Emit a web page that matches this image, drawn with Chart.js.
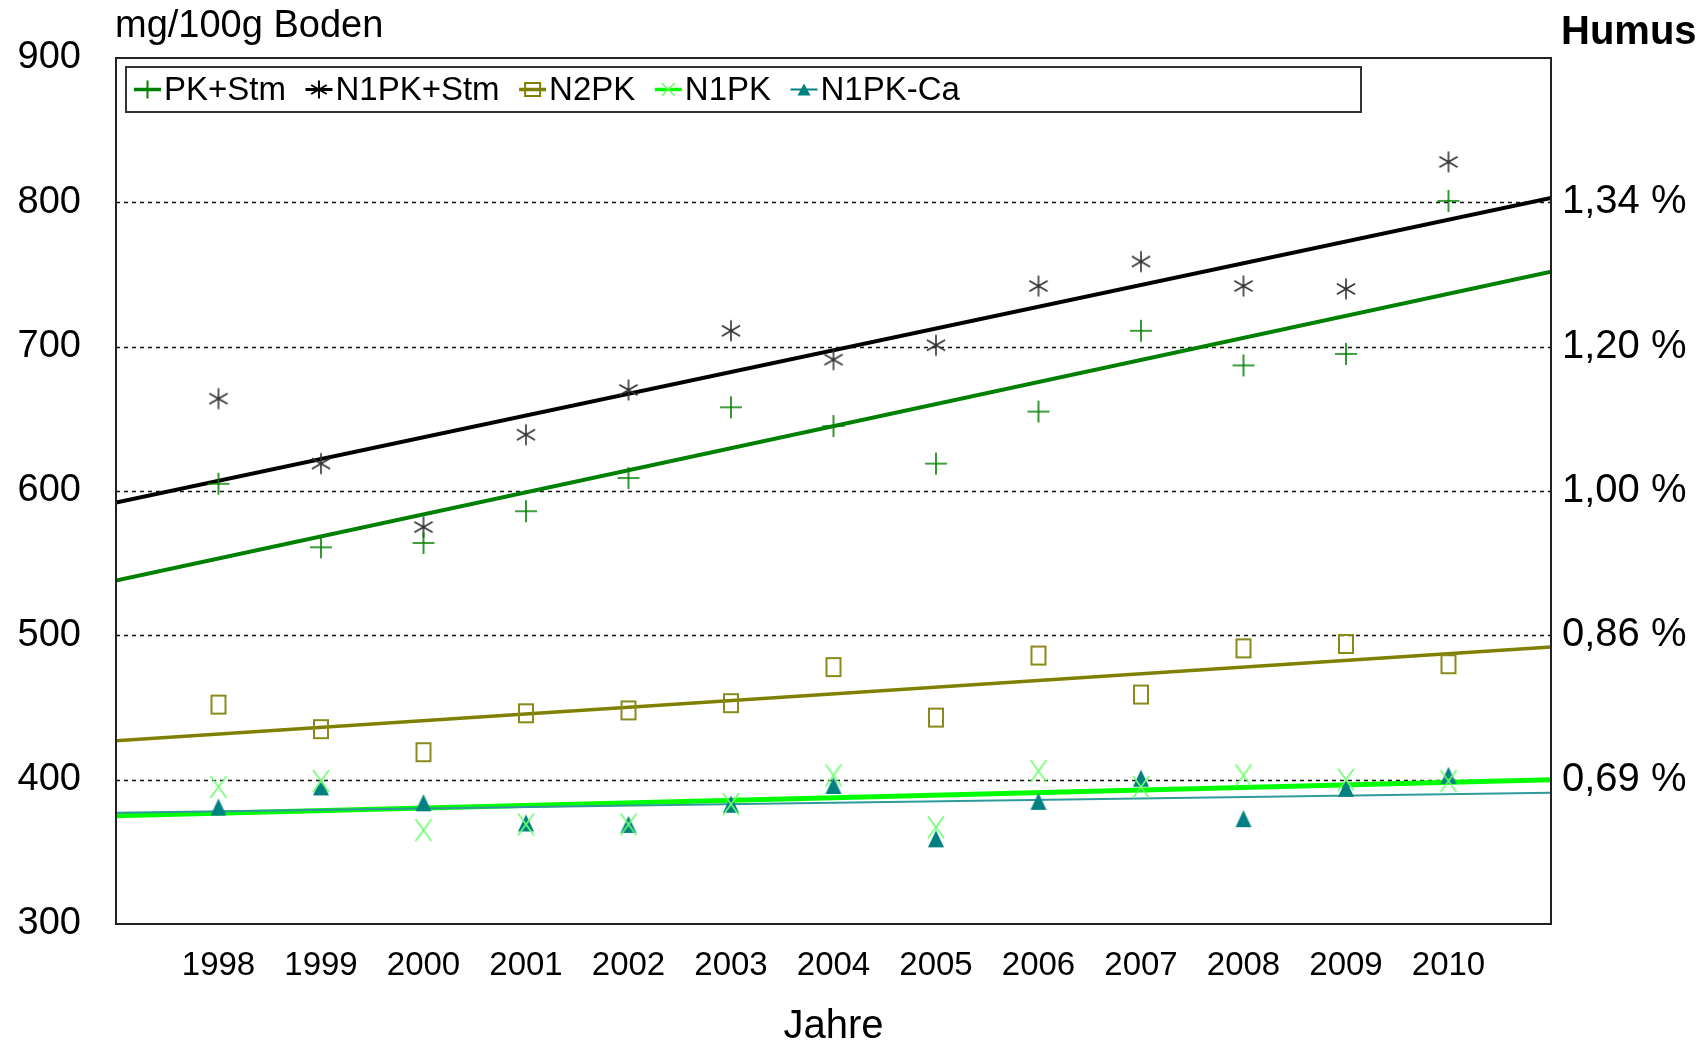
<!DOCTYPE html>
<html lang="de">
<head>
<meta charset="UTF-8">
<title>Humus</title>
<script src="https://cdn.jsdelivr.net/npm/chart.js"></script>
<style>
  html, body { margin: 0; padding: 0; background: #fff; }
</style>
</head>
<body>
<canvas id="humusChart" width="1708" height="1043"></canvas>
<script>
const years = [1998, 1999, 2000, 2001, 2002, 2003, 2004, 2005, 2006, 2007, 2008, 2009, 2010];
const pkStm   = [605, 561, 564, 586, 609, 658, 645, 619, 655, 711, 687, 695, 801];
const n1pkStm = [664, 619, 575, 639, 670, 711, 691, 701, 742, 759, 742, 740, 828];
const n2pk    = [452, 435, 419, 446, 448, 453, 478, 443, 486, 459, 491, 494, 480];
const n1pk    = [395, 399, 365, 369, 369, 383, 403, 367, 406, 395, 403, 400, 399];
const n1pkCa  = [381, 395, 384, 370, 369, 383, 396, 359, 385, 401, 373, 394, 403];

// trend lines, ends at 1997 and 2011
const trendYears   = [1997, 2011];
const pkStmTrend   = [538, 752];
const n1pkStmTrend = [592, 803];
const n2pkTrend    = [427, 492];
const n1pkTrend    = [375, 400];
const n1pkCaTrend  = [377, 391];

const yTicks = [300, 400, 500, 600, 700, 800, 900];
const humusTicks  = [400, 500, 600, 700, 800];
const humusLabels = ['0,69 %', '0,86 %', '1,00 %', '1,20 %', '1,34 %'];

const FONT = '"Liberation Sans", Arial, sans-serif';

function makeMarker(w, h, draw) {
    const c = document.createElement('canvas');
    c.width = w;
    c.height = h;
    draw(c.getContext('2d'), w, h);
    return c;
}

// marker shapes
function plusShape(g, cx, cy, r, color, lw) {
    g.strokeStyle = color; g.lineWidth = lw;
    g.beginPath();
    g.moveTo(cx - r, cy); g.lineTo(cx + r, cy);
    g.moveTo(cx, cy - r); g.lineTo(cx, cy + r);
    g.stroke();
}
function starShape(g, cx, cy, r, color, lw) {
    g.strokeStyle = color; g.lineWidth = lw;
    g.beginPath();
    for (let a = 90; a < 270; a += 60) {
        const rad = a * Math.PI / 180;
        g.moveTo(cx + r * Math.cos(rad), cy - r * Math.sin(rad));
        g.lineTo(cx - r * Math.cos(rad), cy + r * Math.sin(rad));
    }
    g.stroke();
}
function rectShape(g, cx, cy, w, h, color, lw) {
    g.strokeStyle = color; g.lineWidth = lw;
    g.strokeRect(cx - w / 2, cy - h / 2, w, h);
}
function xShape(g, cx, cy, w, h, color, lw) {
    g.strokeStyle = color; g.lineWidth = lw;
    g.beginPath();
    g.moveTo(cx - w / 2, cy - h / 2); g.lineTo(cx + w / 2, cy + h / 2);
    g.moveTo(cx + w / 2, cy - h / 2); g.lineTo(cx - w / 2, cy + h / 2);
    g.stroke();
}
function triShape(g, cx, cy, w, h, color) {
    g.fillStyle = color;
    g.beginPath();
    g.moveTo(cx, cy - h / 2);
    g.lineTo(cx + w / 2, cy + h / 2);
    g.lineTo(cx - w / 2, cy + h / 2);
    g.closePath();
    g.fill();
}

const plusImg = makeMarker(24, 24, (g) => plusShape(g, 12, 12, 11, '#008000', 1.6));
const starImg = makeMarker(24, 24, (g) => starShape(g, 12, 12, 10.5, '#333333', 1.6));
const rectImg = makeMarker(18, 22, (g) => rectShape(g, 9, 11, 14, 18, '#8a8a1a', 2));
const xImg    = makeMarker(20, 26, (g) => xShape(g, 10, 13, 16, 22, '#6cff6c', 1.6));
const triImg  = makeMarker(18, 19, (g) => triShape(g, 9, 9.5, 16, 17, '#008080'));

function pts(xs, ys) {
    return xs.map((x, i) => ({ x: x, y: ys[i] }));
}

function markerSet(label, values, img) {
    return {
        label: label,
        data: pts(years, values),
        showLine: false,
        pointStyle: img,
        pointRadius: 10,
        pointHoverRadius: 10,
        order: 0
    };
}

function trendSet(label, values, color, width) {
    return {
        label: label,
        data: pts(trendYears, values),
        showLine: true,
        borderColor: color,
        borderWidth: width,
        pointRadius: 0,
        fill: false,
        order: 1
    };
}

const legendItems = [
    { text: 'PK+Stm',   line: '#008000', lw: 3.5, mark: (g, x, y) => plusShape(g, x, y, 9, '#008000', 2) },
    { text: 'N1PK+Stm', line: '#000000', lw: 3, mark: (g, x, y) => starShape(g, x, y, 9, '#000000', 2) },
    { text: 'N2PK',     line: '#808000', lw: 3.5, mark: (g, x, y) => rectShape(g, x, y, 15, 13, '#808000', 2) },
    { text: 'N1PK',     line: '#00ff00', lw: 3.5, mark: (g, x, y) => xShape(g, x, y, 13, 13, '#66ff66', 1.5) },
    { text: 'N1PK-Ca',  line: '#008080', lw: 2, mark: (g, x, y) => triShape(g, x, y, 13, 12, '#008080') }
];

const decorations = {
    id: 'decorations',
    beforeDatasetsDraw(chart) {
        const { ctx, chartArea: a, scales } = chart;
        ctx.save();
        ctx.strokeStyle = '#111';
        ctx.lineWidth = 1.5;
        ctx.setLineDash([4, 4]);
        humusTicks.forEach(v => {
            const y = Math.round(scales.y.getPixelForValue(v)) + 0.5;
            ctx.beginPath();
            ctx.moveTo(a.left, y);
            ctx.lineTo(a.right, y);
            ctx.stroke();
        });
        ctx.restore();
    },
    afterDraw(chart) {
        const { ctx, chartArea: a } = chart;
        ctx.save();
        // plot frame
        ctx.strokeStyle = '#222';
        ctx.lineWidth = 2;
        ctx.strokeRect(a.left, a.top, a.right - a.left, a.bottom - a.top);

        // axis titles
        ctx.fillStyle = '#000';
        ctx.textBaseline = 'alphabetic';
        ctx.textAlign = 'left';
        ctx.font = '38px ' + FONT;
        ctx.fillText('mg/100g Boden', 115, 37);
        ctx.font = 'bold 40px ' + FONT;
        ctx.fillText('Humus', 1561, 44);
        ctx.textAlign = 'center';
        ctx.font = '40px ' + FONT;
        ctx.fillText('Jahre', (a.left + a.right) / 2, 1038);

        // legend
        const bx = 126, by = 67, bw = 1235, bh = 45;
        ctx.fillStyle = '#fff';
        ctx.fillRect(bx, by, bw, bh);
        ctx.strokeStyle = '#333';
        ctx.lineWidth = 2;
        ctx.strokeRect(bx, by, bw, bh);
        ctx.font = '33px ' + FONT;
        ctx.textAlign = 'left';
        ctx.textBaseline = 'middle';
        const cy = by + bh / 2;
        let x = 134;
        legendItems.forEach(it => {
            ctx.strokeStyle = it.line;
            ctx.lineWidth = it.lw;
            ctx.beginPath();
            ctx.moveTo(x, cy);
            ctx.lineTo(x + 27, cy);
            ctx.stroke();
            it.mark(ctx, x + 13.5, cy);
            ctx.fillStyle = '#000';
            ctx.fillText(it.text, x + 30, cy + 1);
            x += 30 + ctx.measureText(it.text).width + 19.5;
        });
        ctx.restore();
    }
};

new Chart(document.getElementById('humusChart'), {
    type: 'scatter',
    data: {
        datasets: [
            markerSet('PK+Stm', pkStm, plusImg),
            markerSet('N1PK+Stm', n1pkStm, starImg),
            markerSet('N2PK', n2pk, rectImg),
            markerSet('N1PK', n1pk, xImg),
            markerSet('N1PK-Ca', n1pkCa, triImg),
            trendSet('PK+Stm Trend', pkStmTrend, '#008000', 4),
            trendSet('N1PK+Stm Trend', n1pkStmTrend, '#000000', 4),
            trendSet('N2PK Trend', n2pkTrend, '#808000', 3.5),
            trendSet('N1PK-Ca Trend', n1pkCaTrend, '#2f9a9a', 2),
            trendSet('N1PK Trend', n1pkTrend, '#00ff00', 5)
        ]
    },
    options: {
        responsive: false,
        devicePixelRatio: 1,
        animation: false,
        layout: { padding: { top: 58, left: 0, right: 0, bottom: 0 } },
        plugins: {
            legend: { display: false },
            tooltip: { enabled: false }
        },
        scales: {
            x: {
                type: 'linear',
                min: 1997,
                max: 2011,
                afterBuildTicks: (s) => { s.ticks = years.map(v => ({ value: v })); },
                afterFit: (s) => { s.height = 119; },
                grid: { display: false },
                border: { display: false },
                ticks: {
                    color: '#000',
                    font: { family: FONT, size: 33 },
                    padding: 14,
                    maxRotation: 0,
                    callback: (v) => String(v)
                }
            },
            y: {
                position: 'left',
                min: 300,
                max: 900,
                afterBuildTicks: (s) => { s.ticks = yTicks.map(v => ({ value: v })); },
                afterFit: (s) => { s.width = 116; },
                grid: { display: false },
                border: { display: false },
                ticks: {
                    color: '#000',
                    font: { family: FONT, size: 38 },
                    padding: 27
                }
            },
            y2: {
                position: 'right',
                min: 300,
                max: 900,
                afterBuildTicks: (s) => { s.ticks = humusTicks.map(v => ({ value: v })); },
                afterFit: (s) => { s.width = 157; },
                grid: { display: false },
                border: { display: false },
                ticks: {
                    color: '#000',
                    font: { family: FONT, size: 40 },
                    padding: 3,
                    callback: (v) => humusLabels[humusTicks.indexOf(v)]
                }
            }
        }
    },
    plugins: [decorations]
});
</script>
</body>
</html>
